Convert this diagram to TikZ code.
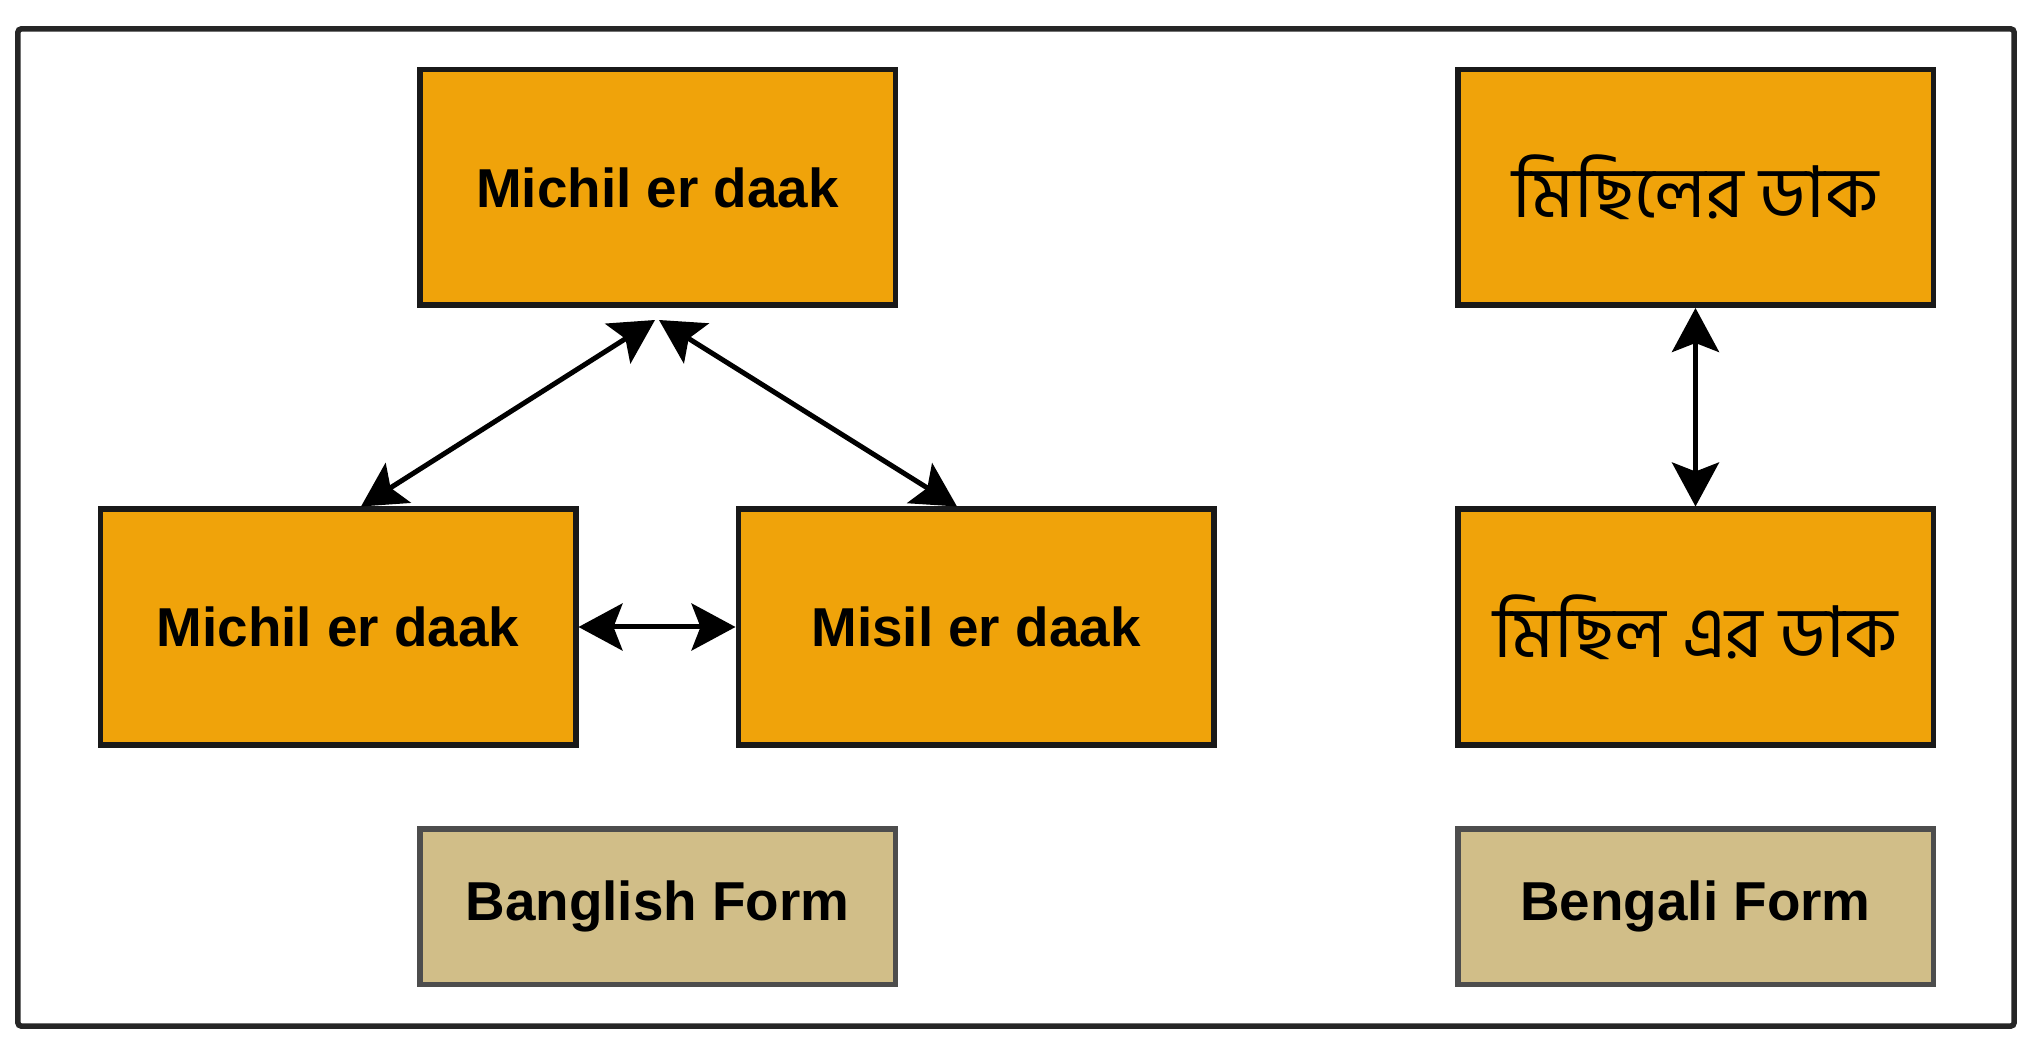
\documentclass[tikz,border=0pt]{standalone}
\usepackage{fontspec}
\setmainfont{Liberation Sans}
\newfontfamily\bengfont[Script=Bengali]{Hind Siliguri}
\usetikzlibrary{arrows.meta}
\definecolor{boxorange}{HTML}{F0A30A}
\definecolor{formtan}{HTML}{D1BE88}
\definecolor{formline}{HTML}{4D4D4D}
\tikzset{
	wordbox/.style={draw=black!90, line width=0.055cm, fill=boxorange, minimum width=4.755cm, minimum height=2.355cm, inner sep=0pt, font=\fontsize{15.6}{18}\selectfont\bfseries},
	bengbox/.style={wordbox, font=\fontsize{20.3}{24}\selectfont\bengfont},
	formbox/.style={draw=formline, line width=0.055cm, fill=formtan, minimum width=4.755cm, minimum height=1.555cm, inner sep=0pt, font=\fontsize{15.6}{18}\selectfont\bfseries},
	link/.style={line width=0.05cm, {Stealth[length=0.44cm, width=0.47cm, inset=0.09cm]}-{Stealth[length=0.44cm, width=0.47cm, inset=0.09cm]}}
}
\begin{document}
\begin{tikzpicture}
		\useasboundingbox (0,0) rectangle (20.43,10.53);
		
		% cadre
		\draw [line width=0.055cm, draw=black!85, rounded corners=0.03cm] (0.18,0.27) rectangle (20.14,10.24);
		
		% Banglish
		\node [wordbox] (michilTop) at (6.575,8.655) {Michil er daak};
		\node [wordbox] (michilLeft) at (3.38,4.26) {Michil er daak};
		\node [wordbox] (misilRight) at (9.76,4.26) {Misil er daak};
		\node [formbox] (banglishForm) at (6.575,1.465) {Banglish Form};
		
		% Bengali
		\node [bengbox] (bengTop) at (16.955,8.655) {মিছিলের ডাক};
		\node [bengbox] (bengMid) at (16.955,4.26) {মিছিল এর ডাক};
		\node [formbox] (bengaliForm) at (16.955,1.465) {Bengali Form};
		
		\draw [link] ([shift={(-0.025,-0.12)}]michilTop.south) -- ([xshift=0.23cm]michilLeft.north);
		\draw [link] ([shift={(0.015,-0.12)}]michilTop.south) -- ([xshift=-0.19cm]misilRight.north);
		\draw [link] (michilLeft.east) -- (misilRight.west);
		\draw [link] (bengTop.south) -- (bengMid.north);
		
\end{tikzpicture}
\end{document}
